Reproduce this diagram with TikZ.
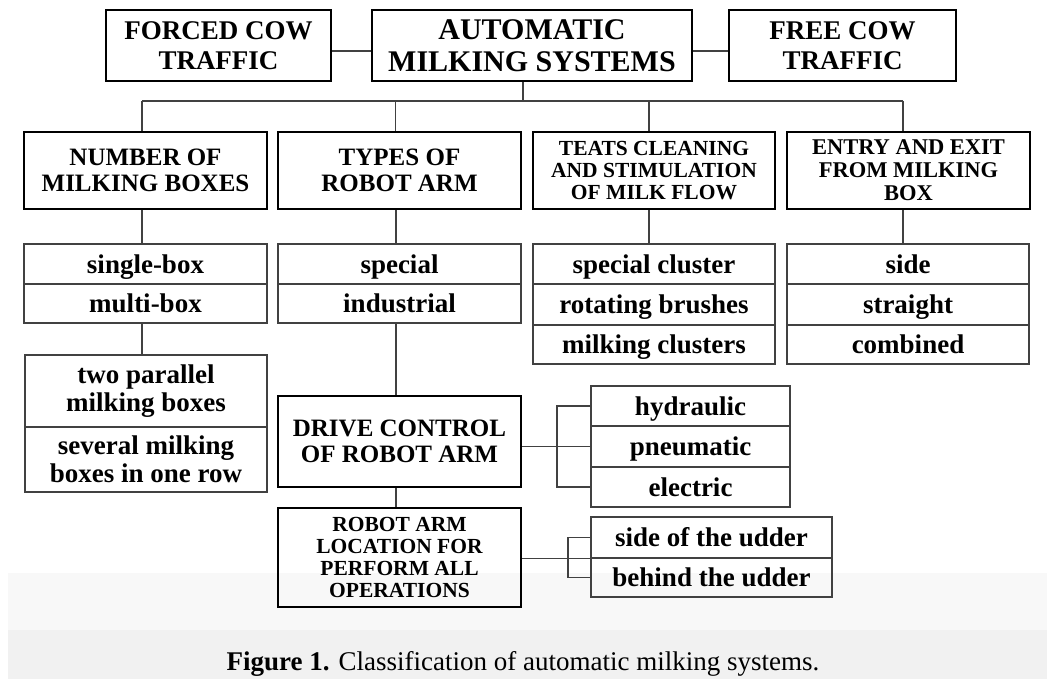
\documentclass[tikz,border=0pt]{standalone}
\usepackage{fontspec}
\setmainfont{Liberation Serif}
\definecolor{bgA}{RGB}{248,248,248}
\definecolor{bgB}{RGB}{241,241,241}
\definecolor{ln}{RGB}{65,65,65}
\begin{document}
\begin{tikzpicture}[x=1pt,y=-1pt,
 hd/.style={draw=black, line width=2.3pt, align=center, inner sep=0pt},
 it/.style={draw=ln, line width=1.3pt, align=center, inner sep=0pt, font=\bfseries\fontsize{27}{28}\selectfont},
 one/.style={it, text height=19pt, text depth=1pt},
 conn/.style={draw=ln, line width=1.3pt},
 fA/.style={font=\bfseries\fontsize{30}{32}\selectfont},
 fB/.style={font=\bfseries\fontsize{27}{30}\selectfont},
 fC/.style={font=\bfseries\fontsize{25}{26}\selectfont},
 fD/.style={font=\bfseries\fontsize{21.5}{22}\selectfont}]
\useasboundingbox (0,0) rectangle (1047,679);
\fill[bgA] (8,573) rectangle (1047,679);
\fill[bgB] (8,630) rectangle (1047,679);

% level 1
\node[hd, fB, minimum width=225pt, minimum height=71pt] (forced) at (218.5,45.5) {FORCED COW\\TRAFFIC};
\node[hd, fA, minimum width=320pt, minimum height=71pt] (ams) at (532,45.5) {AUTOMATIC\\MILKING SYSTEMS};
\node[hd, fB, minimum width=227pt, minimum height=71pt] (free) at (842.5,45.5) {FREE COW\\TRAFFIC};

% level 2
\node[hd, fC, minimum width=243pt, minimum height=77pt] (num) at (145.5,170.5) {NUMBER OF\\MILKING BOXES};
\node[hd, fC, minimum width=243pt, minimum height=77pt] (types) at (399.5,170.5) {TYPES OF\\ROBOT ARM};
\node[hd, fD, minimum width=242pt, minimum height=77pt] (teats) at (654,170.5) {TEATS CLEANING\\AND STIMULATION\\OF MILK FLOW};
\node[hd, font=\bfseries\fontsize{22.5}{23}\selectfont, minimum width=243pt, minimum height=77pt] (entry) at (908.5,170.5) {ENTRY AND EXIT\\FROM MILKING\\BOX};

% lists
\node[one, minimum width=243pt, minimum height=40pt] (single) at (145.5,264) {single-box};
\node[one, minimum width=243pt, minimum height=39pt] (multi) at (145.5,303.5) {multi-box};
\node[one, minimum width=243pt, minimum height=40pt] (special) at (399.5,264) {special};
\node[one, minimum width=243pt, minimum height=39pt] (industrial) at (399.5,303.5) {industrial};
\node[one, minimum width=242pt, minimum height=40pt] (scl) at (654,264) {special cluster};
\node[one, minimum width=242pt, minimum height=41pt] (rot) at (654,304.5) {rotating brushes};
\node[one, minimum width=242pt, minimum height=39pt] (mcl) at (654,344.5) {milking clusters};
\node[one, minimum width=242pt, minimum height=40pt] (side) at (908,264) {side};
\node[one, minimum width=242pt, minimum height=41pt] (straight) at (908,304.5) {straight};
\node[one, minimum width=242pt, minimum height=39pt] (combined) at (908,344.5) {combined};

\node[it, minimum width=242pt, minimum height=72pt] (two) at (146,391) {two parallel\\milking boxes};
\node[it, minimum width=242pt, minimum height=65pt] (several) at (146,459.5) {several milking\\boxes in one row};

\node[hd, font=\bfseries\fontsize{25}{25.7}\selectfont, minimum width=243pt, minimum height=91pt] (drive) at (399.5,441.5) {DRIVE CONTROL\\OF ROBOT ARM};
\node[hd, font=\bfseries\fontsize{21.5}{21.7}\selectfont, minimum width=243pt, minimum height=99pt] (robot) at (399.5,557.5) {ROBOT ARM\\LOCATION FOR\\PERFORM ALL\\OPERATIONS};

\node[one, minimum width=199pt, minimum height=40pt] (hyd) at (690.5,406) {hydraulic};
\node[one, minimum width=199pt, minimum height=41pt] (pneu) at (690.5,446.5) {pneumatic};
\node[one, minimum width=199pt, minimum height=40pt] (elec) at (690.5,487) {electric};
\node[one, minimum width=241pt, minimum height=41pt] (sideu) at (711.5,537.5) {side of the udder};
\node[one, minimum width=241pt, minimum height=39pt] (behind) at (711.5,577.5) {behind the udder};

% connectors
\draw[conn] ([yshift=-5.5pt]forced.east) -- ([yshift=-5.5pt]forced.east -| ams.west);
\draw[conn] ([yshift=-5.5pt]free.west -| ams.east) -- ([yshift=-5.5pt]free.west);
\coordinate (busL) at (142,101);
\coordinate (busR) at (903,101);
\draw[conn] ([xshift=-9pt]ams.south) -- ([xshift=-9pt]ams.south |- busL);
\draw[conn] (busL) -- (busR);
\draw[conn] (busL) -- (busL |- num.north);
\draw[conn] ([xshift=-4pt]types.north |- busL) -- ([xshift=-4pt]types.north);
\draw[conn] ([xshift=-5pt]teats.north |- busL) -- ([xshift=-5pt]teats.north);
\draw[conn] (busR) -- (busR |- entry.north);

\draw[conn] ([xshift=-3.5pt]num.south) -- ([xshift=-3.5pt]single.north);
\draw[conn] ([xshift=-3.5pt]types.south) -- ([xshift=-3.5pt]special.north);
\draw[conn] ([xshift=-5pt]teats.south) -- ([xshift=-5pt]scl.north);
\draw[conn] ([xshift=-5.5pt]entry.south) -- ([xshift=-5pt]side.north);
\draw[conn] ([xshift=-3.5pt]multi.south) -- ([xshift=-4pt]two.north);
\draw[conn] ([xshift=-3.5pt]industrial.south) -- ([xshift=-3.5pt]drive.north);
\draw[conn] ([xshift=-3.5pt]drive.south) -- ([xshift=-3.5pt]robot.north);

\coordinate (bk) at (557,446.5);
\draw[conn] (pneu.west -| drive.east) -- (pneu.west);
\draw[conn] (hyd.west) -- (hyd.west -| bk) -- (elec.west -| bk) -- (elec.west);
\coordinate (bkb) at (568,557.5);
\draw[conn] (robot.east |- sideu.south) -- (sideu.south west);
\draw[conn] (sideu.west) -- (sideu.west -| bkb) -- (behind.west -| bkb) -- (behind.west);

% caption
\node[anchor=base, inner sep=0pt, font=\fontsize{27}{30}\selectfont] (cap) at (523,670) {\textbf{Figure 1.} Classification of automatic milking systems.};
\end{tikzpicture}
\end{document}
